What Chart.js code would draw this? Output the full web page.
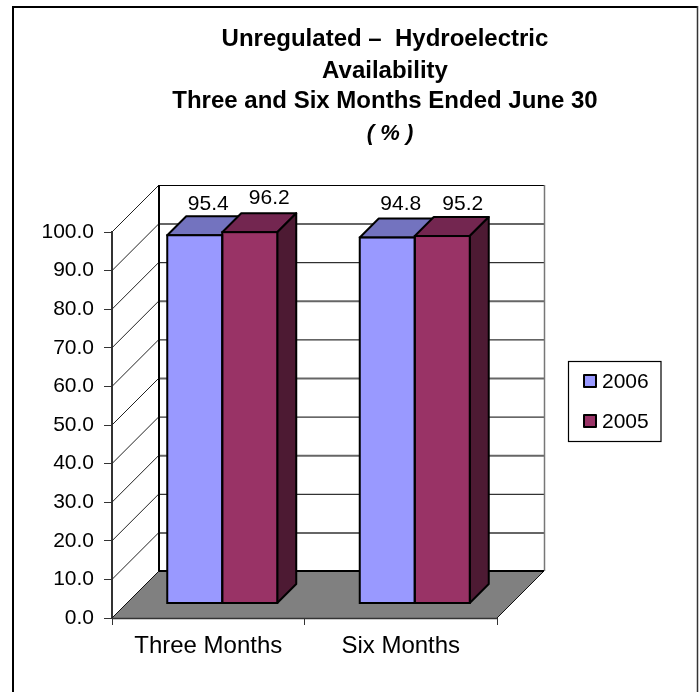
<!DOCTYPE html>
<html>
<head>
<meta charset="utf-8">
<title>Unregulated Hydroelectric Availability</title>
<script src="https://cdn.jsdelivr.net/npm/chart.js@4/dist/chart.umd.js"></script>
<style>
html, body { margin: 0; padding: 0; background: #ffffff; }
canvas { display: block; }
</style>
</head>
<body>
<canvas id="chart" width="699" height="692"></canvas>
<script>
// ==========================================================
// DATA
// ==========================================================

const categories = ["Three Months", "Six Months"];
const seriesLabels = ["2006", "2005"];
const values2006 = [95.4, 94.8];
const values2005 = [96.2, 95.2];

const titleLines = [
    "Unregulated \u2013  Hydroelectric",
    "Availability",
    "Three and Six Months Ended June 30"
];
const unitLine = "( % )";

// ==========================================================
// STYLE
// ==========================================================

const FONT = "'Liberation Sans', Arial, sans-serif";

const FRONT_COLORS = ["#9999ff", "#993366"];
const TOP_COLORS = ["#7373bf", "#732650"];
const SIDE_COLORS = ["#4d4d80", "#4d1a33"];

const WALL_DEPTH = 47;    // front plane to back wall
const BAR_OFFSET_X = 14;  // front plane to bar front
const BAR_OFFSET_Y = 14.5;
const BAR_DEPTH = 19;

// label position relative to the bar front top centre
const LABEL_NUDGE = [
    [[13.5, -31.5], [13.5, -33.6]],
    [[19.5, -33.7], [20.5, -32]]
];

function polygon(ctx, points) {
    ctx.beginPath();
    points.forEach((p, i) => {
        if (i === 0) ctx.moveTo(p[0], p[1]);
        else ctx.lineTo(p[0], p[1]);
    });
    ctx.closePath();
}

function line(ctx, x1, y1, x2, y2, color, width) {
    ctx.strokeStyle = color;
    ctx.lineWidth = width;
    ctx.beginPath();
    ctx.moveTo(x1, y1);
    ctx.lineTo(x2, y2);
    ctx.stroke();
}

// ==========================================================
// 3D PLOT (walls, floor, bar faces, labels, legend, title)
// ==========================================================

const plot3d = {
    id: "plot3d",

    beforeDraw(chart) {
        const ctx = chart.ctx;
        ctx.save();
        ctx.fillStyle = "#ffffff";
        ctx.fillRect(0, 0, chart.width, chart.height);

        // outer frame, the bottom edge is cut off in the picture
        line(ctx, 13, 692, 13, 7, "#000000", 2);
        line(ctx, 12, 7, 698, 7, "#000000", 2);
        line(ctx, 697.5, 6, 697.5, 692, "#333333", 1.5);

        // title
        ctx.fillStyle = "#000000";
        ctx.textAlign = "center";
        ctx.textBaseline = "middle";
        ctx.font = "bold 24px " + FONT;
        const titleY = [39, 71, 101];
        titleLines.forEach((text, i) => {
            ctx.fillText(text, 385, titleY[i]);
        });
        ctx.font = "italic bold 22px " + FONT;
        ctx.fillText(unitLine, 390, 134);
        ctx.restore();
    },

    beforeDatasetsDraw(chart) {
        const ctx = chart.ctx;
        const x = chart.scales.x;
        const y = chart.scales.y;
        const left = x.left;
        const right = x.right;
        const bottom = y.getPixelForValue(0);
        const top = y.getPixelForValue(100);
        const d = WALL_DEPTH;

        ctx.save();

        // floor
        ctx.fillStyle = "#808080";
        polygon(ctx, [
            [left, bottom],
            [right, bottom],
            [right + d, bottom - d],
            [left + d, bottom - d]
        ]);
        ctx.fill();
        line(ctx, left, bottom, left + d, bottom - d, "#111111", 1);
        line(ctx, right, bottom, right + d, bottom - d, "#111111", 1);
        line(ctx, left, bottom + 0.5, right, bottom + 0.5, "#333333", 1.5);

        // grid lines, side wall then back wall
        y.ticks.forEach(tick => {
            const py = y.getPixelForValue(tick.value);
            if (tick.value > 0) {
                line(ctx, left, py, left + d, py - d, "#222222", 1);
            }
            if (tick.value > 0 && tick.value < 100) {
                const even = tick.value % 20 === 0;
                line(
                    ctx,
                    left + d,
                    py - d + 0.5,
                    right + d,
                    py - d + 0.5,
                    even ? "#000000" : "#666666",
                    even ? 1 : 2
                );
            }
        });

        // wall edges
        line(ctx, left + d, top - d, left + d, bottom - d, "#000000", 2);
        line(ctx, left + d, top - d + 0.5, right + d, top - d + 0.5, "#000000", 1);
        line(ctx, right + d + 0.5, top - d, right + d + 0.5, bottom - d, "#777777", 1.5);
        line(ctx, left + d, bottom - d, right + d, bottom - d, "#000000", 2);

        // top and side faces, in series order so the later bar covers the earlier
        ctx.translate(BAR_OFFSET_X, -BAR_OFFSET_Y);
        ctx.lineWidth = 2;
        ctx.lineJoin = "round";
        ctx.strokeStyle = "#000000";
        const b = BAR_DEPTH;
        chart.data.datasets.forEach((ds, di) => {
            chart.getDatasetMeta(di).data.forEach(bar => {
                const l = bar.x - bar.width / 2;
                const r = bar.x + bar.width / 2;
                ctx.fillStyle = TOP_COLORS[di];
                polygon(ctx, [
                    [l, bar.y],
                    [r, bar.y],
                    [r + b, bar.y - b],
                    [l + b, bar.y - b]
                ]);
                ctx.fill();
                ctx.stroke();
                ctx.fillStyle = SIDE_COLORS[di];
                polygon(ctx, [
                    [r, bar.y],
                    [r + b, bar.y - b],
                    [r + b, bar.base - b],
                    [r, bar.base]
                ]);
                ctx.fill();
                ctx.stroke();
            });
        });
        ctx.restore();

        // the library draws the bar fronts inside this shift
        ctx.save();
        ctx.translate(BAR_OFFSET_X, -BAR_OFFSET_Y);
    },

    afterDatasetsDraw(chart) {
        const ctx = chart.ctx;

        ctx.lineWidth = 2;
        ctx.strokeStyle = "#000000";
        chart.data.datasets.forEach((ds, di) => {
            chart.getDatasetMeta(di).data.forEach(bar => {
                ctx.strokeRect(
                    bar.x - bar.width / 2,
                    bar.y,
                    bar.width,
                    bar.base - bar.y
                );
            });
        });
        ctx.restore();

        // value labels
        ctx.save();
        ctx.fillStyle = "#000000";
        ctx.font = "21px " + FONT;
        ctx.textAlign = "center";
        ctx.textBaseline = "middle";
        chart.data.datasets.forEach((ds, di) => {
            chart.getDatasetMeta(di).data.forEach((bar, i) => {
                const nudge = LABEL_NUDGE[di][i];
                ctx.fillText(
                    ds.data[i].toFixed(1),
                    bar.x + BAR_OFFSET_X + nudge[0],
                    bar.y - BAR_OFFSET_Y + nudge[1]
                );
            });
        });

        // legend box
        ctx.strokeStyle = "#000000";
        ctx.lineWidth = 1.2;
        ctx.strokeRect(568.5, 361.5, 92.5, 80);
        const rowY = [381, 421];
        ctx.textAlign = "left";
        ctx.lineJoin = "round";
        chart.data.datasets.forEach((ds, di) => {
            ctx.fillStyle = FRONT_COLORS[di];
            ctx.lineWidth = 2;
            ctx.fillRect(584, rowY[di] - 6, 12, 12);
            ctx.strokeRect(584, rowY[di] - 6, 12, 12);
            ctx.fillStyle = "#000000";
            ctx.fillText(ds.label, 602, rowY[di] + 1);
        });
        ctx.restore();
    }
};

// ==========================================================
// CHART
// ==========================================================

new Chart(document.getElementById("chart"), {

    type: "bar",

    data: {

        labels: categories,

        datasets: [
            {
                label: seriesLabels[0],
                data: values2006,
                backgroundColor: FRONT_COLORS[0],
                borderWidth: 0,
                clip: false
            },
            {
                label: seriesLabels[1],
                data: values2005,
                backgroundColor: FRONT_COLORS[1],
                borderWidth: 0,
                clip: false
            }
        ]
    },

    options: {

        responsive: false,

        animation: false,

        devicePixelRatio: 1,

        layout: {
            padding: { left: 0, top: 232, right: 202, bottom: 0 }
        },

        datasets: {
            bar: {
                categoryPercentage: 0.5714,
                barPercentage: 1
            }
        },

        plugins: {
            legend: { display: false },
            title: { display: false },
            tooltip: { enabled: false }
        },

        scales: {

            x: {
                afterFit: scale => { scale.height = 74; },
                grid: {
                    drawOnChartArea: false,
                    tickLength: 7,
                    color: "#333333"
                },
                border: { display: false },
                ticks: {
                    color: "#000000",
                    padding: 7,
                    maxRotation: 0,
                    font: { family: FONT, size: 24 }
                }
            },

            y: {
                min: 0,
                max: 100,
                afterFit: scale => { scale.width = 112; },
                grid: {
                    drawOnChartArea: false,
                    tickLength: 8,
                    color: "#333333"
                },
                border: { display: true, color: "#333333", width: 2 },
                ticks: {
                    stepSize: 10,
                    color: "#000000",
                    padding: 10,
                    font: { family: FONT, size: 21 },
                    callback: value => value.toFixed(1)
                }
            }
        }
    },

    plugins: [plot3d]
});
</script>
</body>
</html>
